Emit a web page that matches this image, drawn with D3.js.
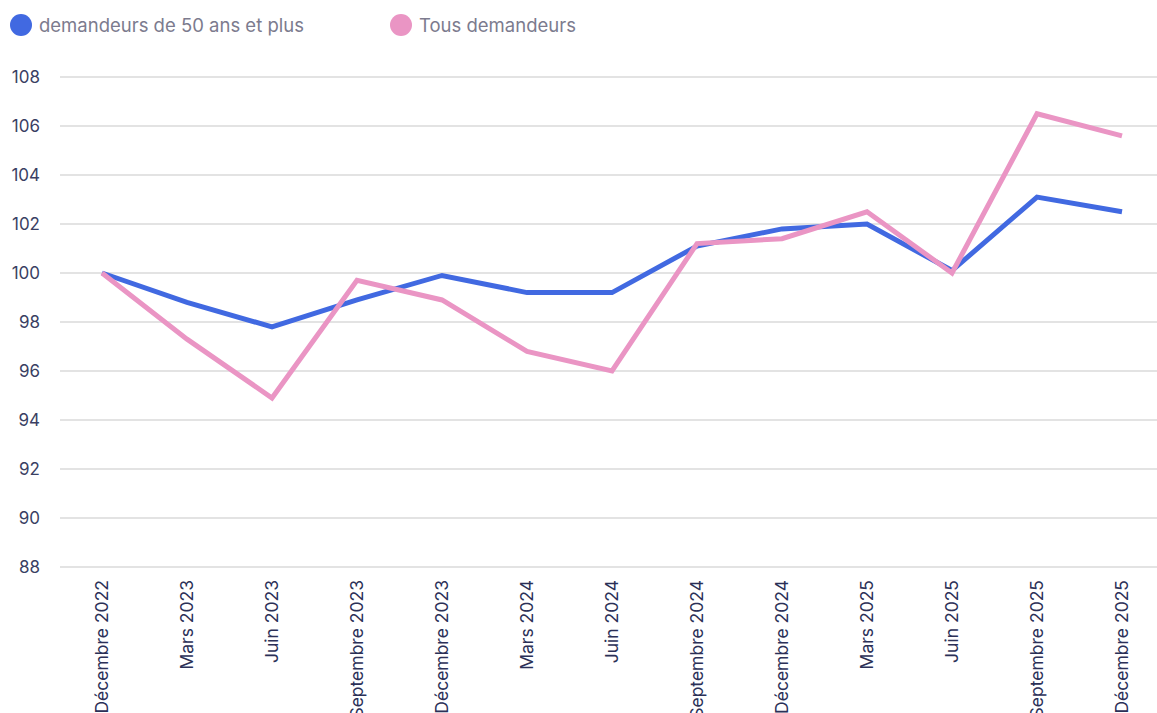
<!DOCTYPE html>
<html>
<head>
<meta charset="utf-8">
<script src="https://cdn.jsdelivr.net/npm/d3@7"></script>
<style>
  body { margin: 0; background: #fff; }
  svg { font-family: Inter, "Open Sans", sans-serif; }
  .grid line { stroke: #e3e3e3; stroke-width: 2; }
  .ytick text { fill: #3a3f63; font-size: 17px; }
  .xtick text { fill: #2b3057; font-size: 17.5px; }
  .legend text { fill: #7c7b8e; font-size: 18.5px; }
</style>
</head>
<body>
<svg id="chart" width="1157" height="713"></svg>
<script>
// DATA
var periods = ["Décembre 2022", "Mars 2023", "Juin 2023", "Septembre 2023", "Décembre 2023",
  "Mars 2024", "Juin 2024", "Septembre 2024", "Décembre 2024", "Mars 2025", "Juin 2025",
  "Septembre 2025", "Décembre 2025"];
var seniors = [100, 98.8, 97.8, 98.9, 99.9, 99.2, 99.2, 101.1, 101.8, 102.0, 100.1, 103.1, 102.5];
var allSeekers = [100, 97.3, 94.9, 99.7, 98.9, 96.8, 96.0, 101.2, 101.4, 102.5, 100.0, 106.5, 105.6];
var yTicks = [88, 90, 92, 94, 96, 98, 100, 102, 104, 106, 108];

var series = [
  { name: "demandeurs de 50 ans et plus", values: seniors, color: "#4169e1" },
  { name: "Tous demandeurs", values: allSeekers, color: "#ea95c4" }
];

var svg = d3.select("#chart");

// SCALES
var xScale = d3.scalePoint().domain(periods).range([102, 1122]);
var yScale = d3.scaleLinear().domain([88, 108]).range([567, 77]);

// GRID + Y LABELS
var grid = svg.append("g").attr("class", "grid");
grid.selectAll("line")
  .data(yTicks)
  .enter()
  .append("line")
  .attr("x1", 60)
  .attr("x2", 1157)
  .attr("y1", d => yScale(d))
  .attr("y2", d => yScale(d));

svg.append("g").attr("class", "ytick")
  .selectAll("text")
  .data(yTicks)
  .enter()
  .append("text")
  .attr("x", 40)
  .attr("y", d => yScale(d))
  .attr("dy", "0.35em")
  .attr("text-anchor", "end")
  .text(d => d);

// X LABELS (rotated)
svg.append("g").attr("class", "xtick")
  .selectAll("text")
  .data(periods)
  .enter()
  .append("text")
  .attr("transform", d => "translate(" + xScale(d) + ",580) rotate(-90)")
  .attr("dy", "0.35em")
  .attr("text-anchor", "end")
  .text(d => d);

// LINES
var line = d3.line()
  .x((d, i) => xScale(periods[i]))
  .y(d => yScale(d));

series.forEach(s => {
  svg.append("path")
    .datum(s.values)
    .attr("fill", "none")
    .attr("stroke", s.color)
    .attr("stroke-width", 5)
    .attr("stroke-linejoin", "miter")
    .attr("d", line);
});

// LEGEND
var legendX = [21, 401];
var legend = svg.append("g").attr("class", "legend");
series.forEach((s, i) => {
  legend.append("circle")
    .attr("cx", legendX[i])
    .attr("cy", 25)
    .attr("r", 11)
    .attr("fill", s.color);
  legend.append("text")
    .attr("x", legendX[i] + 18)
    .attr("y", 26)
    .attr("dy", "0.35em")
    .text(s.name);
});
</script>
</body>
</html>
